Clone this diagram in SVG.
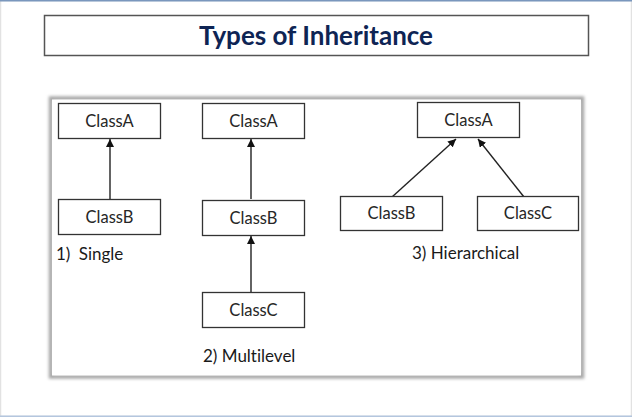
<svg xmlns="http://www.w3.org/2000/svg" width="632" height="417" viewBox="0 0 632 417">
<style>
text{font-variant-ligatures:none}
.box{fill:#fff;stroke:#333;stroke-width:1.3}
.lbl{font-family:Lato,"Liberation Sans",sans-serif;font-size:16.5px;fill:#262626;text-anchor:middle}
.cap{font-family:Lato,"Liberation Sans",sans-serif;font-size:17px;fill:#1a1a1a}
.con{stroke:#222;stroke-width:1.4;fill:none;marker-end:url(#ah)}
</style>
<defs>
<marker id="ah" viewBox="0 0 10 10" refX="10" refY="5" markerWidth="8" markerHeight="8" markerUnits="userSpaceOnUse" orient="auto">
<path d="M0,0 L10,5 L0,10 z" fill="#111"/>
</marker>
<filter id="blur" x="-5%" y="-5%" width="110%" height="110%">
<feGaussianBlur stdDeviation="1.6"/>
</filter>
</defs>
<rect x="0" y="0" width="632" height="417" fill="#fff"/>
<rect x="0.5" y="0.5" width="631" height="416" fill="none" stroke="#e2e2e2" stroke-width="1.5"/>
<line x1="0" y1="0.75" x2="632" y2="0.75" stroke="#7a97bd" stroke-width="1.5"/>
<line x1="0" y1="416.25" x2="632" y2="416.25" stroke="#b4c6de" stroke-width="1.5"/>

<g id="title">
<rect x="44.5" y="15.5" width="544" height="40" fill="#fff" stroke="#555" stroke-width="1.5"/>
<text x="316" y="45" font-family="Lato,'Liberation Sans',sans-serif" font-weight="bold" font-size="26" fill="#0e2454" text-anchor="middle" textLength="234" lengthAdjust="spacingAndGlyphs">Types of Inheritance</text>
</g>

<g id="panel">
<rect x="51" y="98.5" width="531" height="278" fill="none" stroke="#a8a8a8" stroke-width="4.5" filter="url(#blur)"/>
<rect x="52" y="99.5" width="529" height="276" fill="#fff"/>
</g>

<g id="connectors">
<line class="con" x1="110" y1="199" x2="110" y2="139"/>
<line class="con" x1="251" y1="199" x2="251" y2="139"/>
<line class="con" x1="251" y1="292" x2="251" y2="236"/>
<line class="con" x1="392" y1="197" x2="456" y2="139"/>
<line class="con" x1="524" y1="197" x2="478" y2="139"/>
</g>

<g id="single-ClassA"><rect class="box" x="58.5" y="103.5" width="102" height="35"/><text class="lbl" x="109.5" y="127">ClassA</text></g>
<g id="single-ClassB"><rect class="box" x="58.5" y="199.5" width="102" height="35"/><text class="lbl" x="109.5" y="223">ClassB</text></g>
<g id="single-caption"><text class="cap" x="56" y="260">1)<tspan dx="4"> Single</tspan></text></g>

<g id="multi-ClassA"><rect class="box" x="202.5" y="103.5" width="102" height="35"/><text class="lbl" x="253.5" y="127">ClassA</text></g>
<g id="multi-ClassB"><rect class="box" x="202.5" y="200.5" width="102" height="35"/><text class="lbl" x="253.5" y="224">ClassB</text></g>
<g id="multi-ClassC"><rect class="box" x="202.5" y="292.5" width="102" height="35"/><text class="lbl" x="253.5" y="316">ClassC</text></g>
<g id="multi-caption"><text class="cap" x="203" y="362">2) Multilevel</text></g>

<g id="hier-ClassA"><rect class="box" x="417.5" y="102.5" width="102" height="35"/><text class="lbl" x="468.5" y="126">ClassA</text></g>
<g id="hier-ClassB"><rect class="box" x="340.5" y="196.5" width="102" height="34"/><text class="lbl" x="391.5" y="219">ClassB</text></g>
<g id="hier-ClassC"><rect class="box" x="477.5" y="196.5" width="101" height="34"/><text class="lbl" x="528" y="219">ClassC</text></g>
<g id="hier-caption"><text class="cap" x="412" y="259">3) Hierarchical</text></g>
</svg>
